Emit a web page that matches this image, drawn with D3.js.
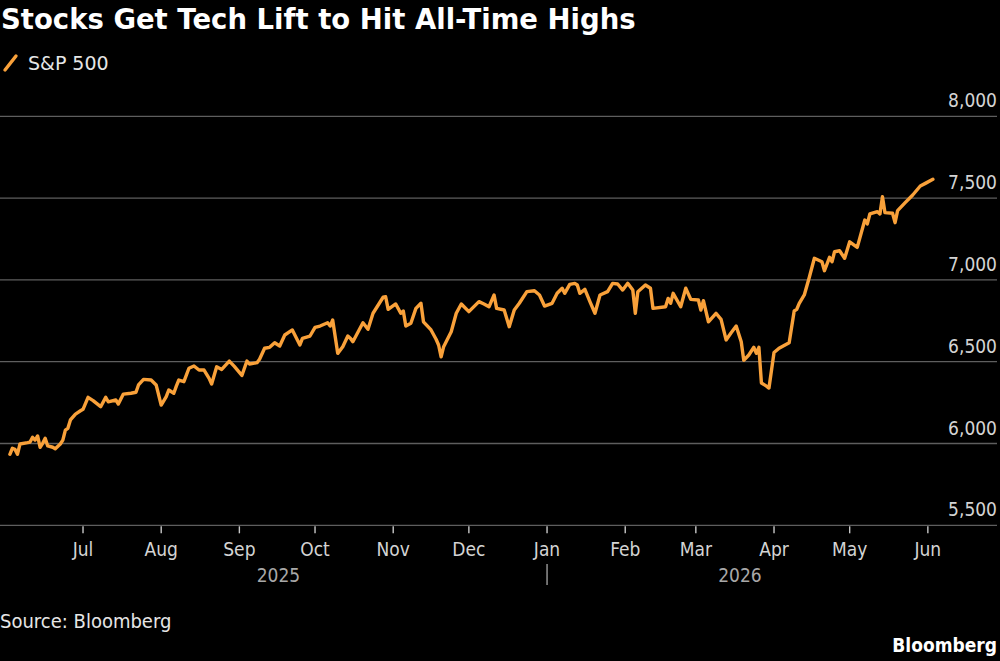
<!DOCTYPE html>
<html><head><meta charset="utf-8">
<script src="https://cdn.jsdelivr.net/npm/d3@7"></script>
<style>
html,body{margin:0;padding:0;background:#000;}
svg{display:block;}
</style></head><body>
<svg id="chart" width="1000" height="661"></svg>
<script>
const titleText = "Stocks Get Tech Lift to Hit All-Time Highs";
const seriesName = "S&P 500";
const sourceText = "Source: Bloomberg";
const brandText = "Bloomberg";
const yTickValues = [5500, 6000, 6500, 7000, 7500, 8000];
const yearLabels = ["2025", "2026"];

const dates = [
"2025-06-02","2025-06-03","2025-06-04","2025-06-05","2025-06-06","2025-06-09","2025-06-10","2025-06-11","2025-06-12","2025-06-13","2025-06-14","2025-06-15","2025-06-16","2025-06-17","2025-06-19","2025-06-20","2025-06-22","2025-06-23","2025-06-24","2025-06-25","2025-06-26","2025-06-28","2025-06-30",
"2025-07-01","2025-07-03","2025-07-05","2025-07-08","2025-07-10","2025-07-11","2025-07-14","2025-07-15","2025-07-17","2025-07-20","2025-07-22","2025-07-23","2025-07-25","2025-07-28","2025-07-30",
"2025-08-01","2025-08-03","2025-08-04","2025-08-06","2025-08-07","2025-08-08","2025-08-10","2025-08-12","2025-08-14","2025-08-16","2025-08-18","2025-08-20","2025-08-21","2025-08-23","2025-08-25","2025-08-28","2025-08-30",
"2025-09-02","2025-09-04","2025-09-05","2025-09-08","2025-09-09","2025-09-11","2025-09-13","2025-09-15","2025-09-17","2025-09-19","2025-09-22","2025-09-24","2025-09-25","2025-09-26","2025-09-29",
"2025-10-01","2025-10-03","2025-10-06","2025-10-07","2025-10-08","2025-10-10","2025-10-12","2025-10-14","2025-10-15","2025-10-16","2025-10-20","2025-10-22","2025-10-24","2025-10-28","2025-10-29","2025-10-30",
"2025-11-02","2025-11-04","2025-11-05","2025-11-06","2025-11-08","2025-11-10","2025-11-12","2025-11-13","2025-11-16","2025-11-18","2025-11-19","2025-11-20","2025-11-21","2025-11-24","2025-11-26","2025-11-28",
"2025-12-01","2025-12-05","2025-12-07","2025-12-09","2025-12-11","2025-12-12","2025-12-15","2025-12-17","2025-12-19","2025-12-21","2025-12-24","2025-12-27","2025-12-29","2025-12-31",
"2026-01-03","2026-01-05","2026-01-07","2026-01-08","2026-01-10","2026-01-12","2026-01-13","2026-01-14","2026-01-16","2026-01-18","2026-01-20","2026-01-22","2026-01-25","2026-01-27","2026-01-29","2026-01-31",
"2026-02-02","2026-02-04","2026-02-05","2026-02-06","2026-02-09","2026-02-11","2026-02-12","2026-02-17","2026-02-18","2026-02-19","2026-02-20","2026-02-23","2026-02-25","2026-02-27",
"2026-03-02","2026-03-03","2026-03-04","2026-03-06","2026-03-09","2026-03-11","2026-03-13","2026-03-15","2026-03-17","2026-03-19","2026-03-20","2026-03-22","2026-03-24","2026-03-25","2026-03-26","2026-03-27","2026-03-29","2026-03-30",
"2026-04-01","2026-04-03","2026-04-07","2026-04-09","2026-04-10","2026-04-11","2026-04-13","2026-04-15","2026-04-17","2026-04-20","2026-04-21","2026-04-23","2026-04-24","2026-04-25","2026-04-27","2026-04-29",
"2026-05-01","2026-05-04","2026-05-07","2026-05-08","2026-05-09","2026-05-12","2026-05-13","2026-05-14","2026-05-15","2026-05-18","2026-05-19","2026-05-20","2026-05-23","2026-05-26","2026-05-29","2026-05-31",
"2026-06-03"
];
const values = [
5934,5971,5965,5934,5997,6005,6009,6038,6021,6046,5977,6001,6032,5985,5977,5968,5997,6021,6082,6093,6144,6180,6200,
6209,6282,6262,6225,6282,6255,6266,6241,6302,6307,6313,6358,6392,6388,6358,
6235,6286,6327,6307,6351,6388,6378,6460,6474,6449,6449,6398,6364,6469,6453,6504,6471,
6416,6504,6486,6494,6515,6582,6588,6616,6596,6663,6694,6633,6602,6643,6657,
6710,6718,6738,6718,6755,6551,6592,6657,6643,6622,6738,6698,6796,6894,6897,6820,
6853,6796,6810,6718,6735,6826,6857,6744,6694,6637,6602,6530,6592,6683,6796,6853,
6806,6867,6853,6836,6908,6826,6816,6714,6816,6857,6928,6934,6908,6840,
6857,6918,6949,6918,6973,6979,6969,6918,6942,6867,6796,6908,6928,6979,6975,6938,
6979,6938,6796,6928,6969,6949,6826,6836,6887,6857,6918,6836,6949,6881,
6877,6816,6873,6744,6796,6759,6633,6677,6718,6622,6508,6541,6588,6551,6588,6370,6351,6339,
6556,6582,6616,6810,6820,6857,6908,7016,7132,7111,7056,7138,7111,7172,7178,7132,
7233,7199,7366,7342,7403,7417,7403,7508,7411,7407,7350,7423,7472,7519,7574,7590,
7615
];

const parse = d3.utcParse("%Y-%m-%d");
const data = dates.map((d, i) => ({date: parse(d), value: values[i]}));

const W = 1000, H = 661;
const plotLeft = 0, plotRight = 997;
const plotTop = 116.3, plotBottom = 525.3;
const lineColor = "#f9a13a";
const condensed = "'DejaVu Sans Condensed', 'DejaVu Sans', sans-serif";

const svg = d3.select("#chart");
svg.append("rect").attr("width", W).attr("height", H).attr("fill", "#000");

const x = d3.scaleUtc()
  .domain([new Date(Date.UTC(2025, 4, 29, 2)), new Date(Date.UTC(2026, 5, 28, 10))])
  .range([plotLeft, plotRight]);
const y = d3.scaleLinear().domain([5500, 8000]).range([plotBottom, plotTop]);

// title
svg.append("text").attr("x", 1).attr("y", 29)
  .attr("fill", "#fff").attr("font-family", "'DejaVu Sans', sans-serif")
  .attr("font-weight", "bold").attr("font-size", 27.5).text(titleText);

// legend
svg.append("line").attr("x1", 5).attr("y1", 70).attr("x2", 16).attr("y2", 56)
  .attr("stroke", lineColor).attr("stroke-width", 3.4).attr("stroke-linecap", "round");
svg.append("text").attr("x", 28).attr("y", 70)
  .attr("fill", "#e6e6e6").attr("font-family", "'DejaVu Sans', sans-serif")
  .attr("font-size", 19).text(seriesName);

// gridlines + y labels
const gy = svg.append("g");
gy.selectAll("line").data(yTickValues).join("line")
  .attr("x1", plotLeft).attr("x2", plotRight)
  .attr("y1", d => y(d)).attr("y2", d => y(d))
  .attr("stroke", "#5e5e5e").attr("stroke-width", 1.3);
gy.selectAll("text").data(yTickValues).join("text")
  .attr("x", plotRight).attr("y", d => y(d) - 9)
  .attr("text-anchor", "end").attr("fill", "#d4d4d4")
  .attr("font-family", condensed).attr("font-size", 19)
  .text(d => d3.format(",")(d));

// x axis
const months = d3.utcMonth.range(new Date(Date.UTC(2025, 6, 1)), new Date(Date.UTC(2026, 5, 2)));
const gx = svg.append("g");
gx.selectAll("line").data(months).join("line")
  .attr("x1", d => x(d)).attr("x2", d => x(d))
  .attr("y1", plotBottom + 1).attr("y2", plotBottom + 8)
  .attr("stroke", "#c8c8c8").attr("stroke-width", 1.4);
gx.selectAll("text").data(months).join("text")
  .attr("x", d => x(d)).attr("y", 556)
  .attr("text-anchor", "middle").attr("fill", "#d4d4d4")
  .attr("font-family", condensed).attr("font-size", 19)
  .text(d => d3.utcFormat("%b")(d));

// year labels
const extent = d3.extent(data, d => d.date);
const yearBreak = new Date(Date.UTC(2026, 0, 1));
const yearSpans = [[extent[0], yearBreak], [yearBreak, extent[1]]];
svg.selectAll("text.year").data(yearSpans).join("text").attr("class", "year")
  .attr("x", d => (x(d[0]) + x(d[1])) / 2).attr("y", 582)
  .attr("text-anchor", "middle").attr("fill", "#a8a8a8")
  .attr("font-family", condensed).attr("font-size", 19)
  .text((d, i) => yearLabels[i]);
svg.append("line").attr("x1", x(yearBreak)).attr("x2", x(yearBreak))
  .attr("y1", 564).attr("y2", 585).attr("stroke", "#a8a8a8").attr("stroke-width", 1.3);

// series line
svg.append("path").datum(data)
  .attr("fill", "none").attr("stroke", lineColor).attr("stroke-width", 3.4)
  .attr("stroke-linejoin", "round").attr("stroke-linecap", "round")
  .attr("d", d3.line().x(d => x(d.date)).y(d => y(d.value)));

// footer
svg.append("text").attr("x", 0).attr("y", 628)
  .attr("fill", "#e6e6e6").attr("font-family", condensed)
  .attr("font-size", 20).text(sourceText);
svg.append("text").attr("x", 997).attr("y", 652).attr("text-anchor", "end")
  .attr("fill", "#fff").attr("font-family", condensed).attr("font-weight", "bold")
  .attr("font-size", 19).text(brandText);
</script>
</body></html>
